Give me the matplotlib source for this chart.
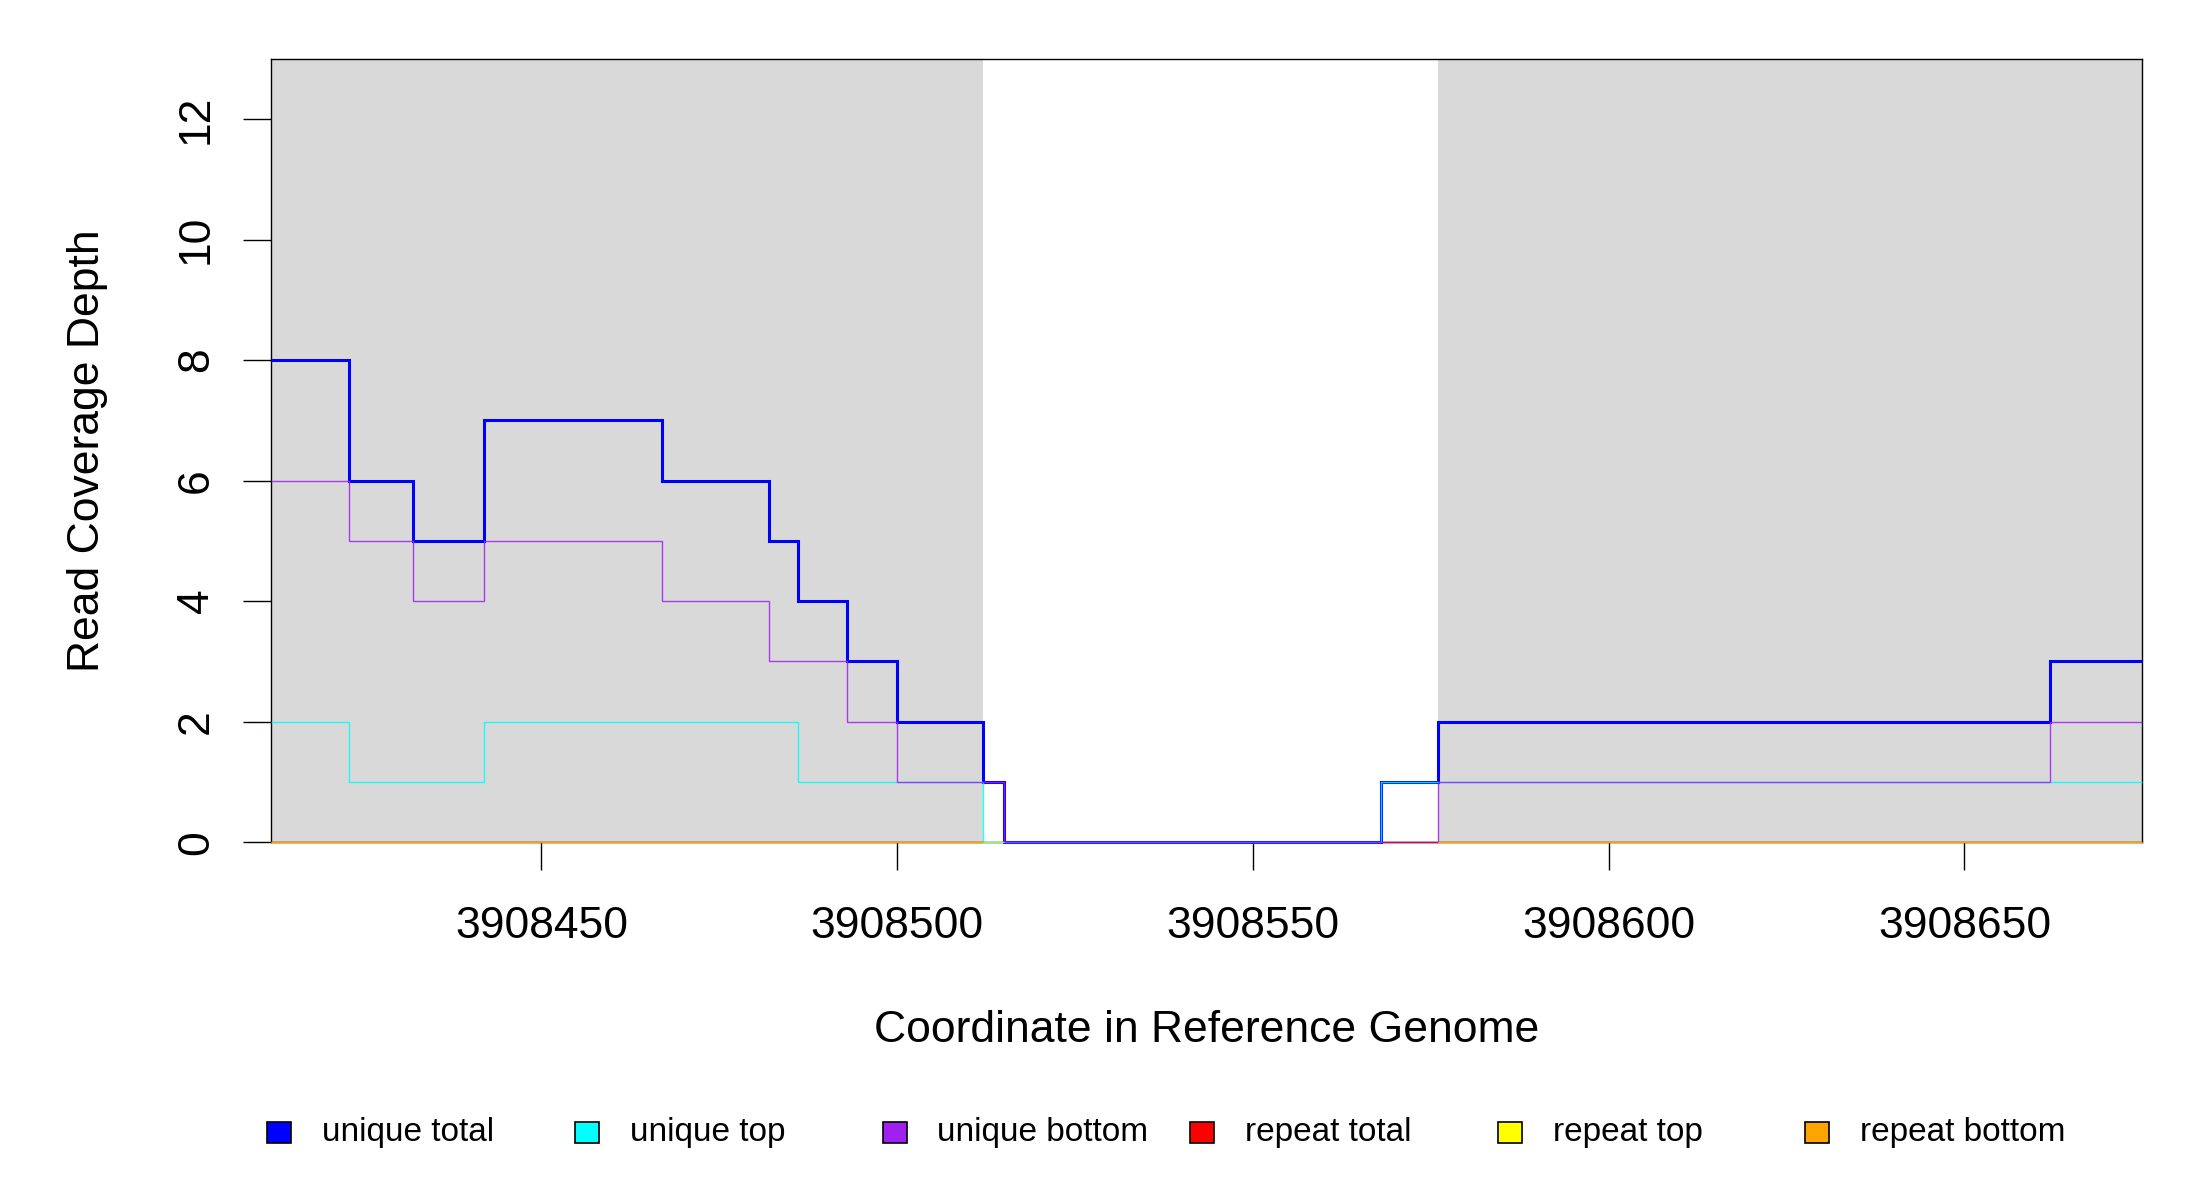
import numpy as np
import matplotlib
matplotlib.use("Agg")
import matplotlib.pyplot as plt
from matplotlib.patches import Rectangle

plt.rcParams['font.family'] = ['Liberation Sans', 'DejaVu Sans']

nan = np.nan

# ---- data ----
edges = [3908412, 3908423, 3908432, 3908442, 3908467, 3908482, 3908486,
         3908493, 3908500, 3908512, 3908515, 3908568, 3908576, 3908662, 3908675]
unique_total = [8, 6, 5, 7, 6, 5, 4, 3, 2, 1, 0, 1, 2, 3]
unique_top = [2, 1, 1, 2, 2, 2, 1, 1, 1, 0, 0, 1, 1, 1]
unique_bottom = [6, 5, 4, 5, 4, 3, 3, 2, 1, 1, 0, 0, 1, 2]
repeat_total = [0, 0, 0, 0, 0, 0, 0, 0, 0, nan, nan, 0, 0, 0]
repeat_top = [0, 0, 0, 0, 0, 0, 0, 0, 0, 0, nan, nan, 0, 0]
repeat_bottom = [0, 0, 0, 0, 0, 0, 0, 0, 0, nan, nan, nan, 0, 0]

exon_starts = [3908412, 3908576]
exon_ends = [3908512, 3908675]

series_names = ["unique total", "unique top", "unique bottom",
                "repeat total", "repeat top", "repeat bottom"]
series_colors = ["#0000FF", "#00FFFF", "#A020F0", "#FF0000", "#FFFF00", "#FFA500"]
series_values = [unique_total, unique_top, unique_bottom,
                 repeat_total, repeat_top, repeat_bottom]
series_lw = [2.2, 1.0, 1.0, 1.0, 1.0, 1.0]
series_alpha = [1.0, 0.85, 0.85, 0.6, 0.6, 0.85]

x_ticks = [3908450, 3908500, 3908550, 3908600, 3908650]
y_ticks = [0, 2, 4, 6, 8, 10, 12]

# ---- figure ----
fig = plt.figure(figsize=(22, 12), dpi=100)
ax = fig.add_axes([0.1232, 0.2982, 0.8506, 0.6527])

for s, e in zip(exon_starts, exon_ends):
    ax.axvspan(s, e, color="#D9D9D9", lw=0, zorder=0)

for vals, col, lw, a in zip(series_values, series_colors, series_lw, series_alpha):
    ax.stairs(np.asarray(vals, dtype=float), edges, baseline=None,
              color=col, lw=lw, alpha=a, zorder=3, clip_on=False)

ax.set_xlim(edges[0], edges[-1])
ax.set_ylim(0, 13)
ax.set_xticks(x_ticks)
ax.set_xticklabels([str(t) for t in x_ticks])
ax.set_yticks(y_ticks)
ax.set_yticklabels([str(t) for t in y_ticks])

for sp in ax.spines.values():
    sp.set_color("black")
    sp.set_linewidth(1.0)

ax.tick_params(axis='both', direction='out', length=20, width=1.0,
               labelsize=32, color='black')
ax.tick_params(axis='x', pad=26)
ax.tick_params(axis='y', pad=19, labelrotation=90)
for lbl in ax.get_yticklabels():
    lbl.set_va('center')

ax.set_xlabel("Coordinate in Reference Genome", fontsize=32)
ax.set_ylabel("Read Coverage Depth", fontsize=32)
ax.xaxis.set_label_coords(0.5, -0.241)
ax.xaxis.label.set_va('center')
ax.yaxis.set_label_coords(-0.098, 0.5)
ax.yaxis.label.set_va('center')

# ---- legend (horizontal, equally spaced like R legend(horiz=TRUE)) ----
leg_y = 0.0561
sq_w, sq_h = 0.0109, 0.0175
for i, (name, col) in enumerate(zip(series_names, series_colors)):
    cx = 0.127 + i * 0.1398
    fig.add_artist(Rectangle((cx - sq_w / 2, leg_y - sq_h / 2), sq_w, sq_h,
                             facecolor=col, edgecolor='black', lw=1.2,
                             transform=fig.transFigure))
    fig.text(cx + 0.0195, leg_y, name, fontsize=24, va='center', ha='left')

fig.savefig("out.png", dpi=100, facecolor="white")
